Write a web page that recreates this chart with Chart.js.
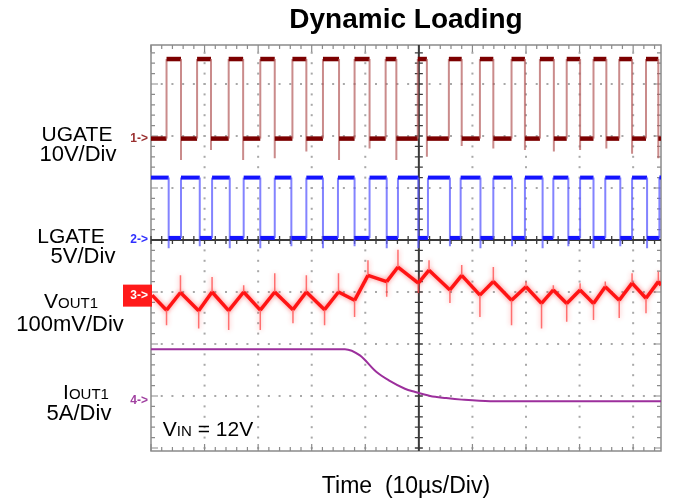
<!DOCTYPE html>
<html>
<head>
<meta charset="utf-8">
<script src="https://cdn.jsdelivr.net/npm/chart.js@4.4.1/dist/chart.umd.min.js"></script>
<style>
  html, body { margin:0; padding:0; background:#fff; }
  #wrap { position:relative; width:674px; height:500px; overflow:hidden; font-family:"Liberation Sans", Arial, sans-serif; color:#000; }
  #c { position:absolute; left:0; top:0; }
  .t { position:absolute; white-space:pre; line-height:1; font-size:21px; transform:translateX(-50%); }
  .b { font-size:22px; }
  .s { font-size:15px; }
</style>
</head>
<body>
<div id="wrap">
  <canvas id="c" width="674" height="500"></canvas>
  <div class="t" style="left:406px; top:5px; font-size:28px; font-weight:bold;">Dynamic Loading</div>
  <div class="t" style="left:406px; top:474px; font-size:23px;">Time  (10µs/Div)</div>
  <div class="t" style="left:77px; top:123px;">UGATE</div>
  <div class="t b" style="left:78px; top:143px;">10V/Div</div>
  <div class="t" style="left:71px; top:225px;">LGATE</div>
  <div class="t b" style="left:83px; top:245px;">5V/Div</div>
  <div class="t" style="left:71px; top:290px;">V<span class="s">OUT1</span></div>
  <div class="t b" style="left:70px; top:313px;">100mV/Div</div>
  <div class="t" style="left:86px; top:381px;">I<span class="s">OUT1</span></div>
  <div class="t b" style="left:79px; top:402px;">5A/Div</div>
  <div class="t" style="left:208px; top:418px;">V<span class="s">IN</span> = 12V</div>
</div>
<script>
// ---- time axis (µs), 10 µs/div, trigger at 0 ----
const timeMin = -50;
const timeMax = 45.2;

// ---- channel settings: offset (div), scale (units/div) ----
const ugOffset = 1.95, ugPerDiv = 10;    // V
const lgOffset = 0, lgPerDiv = 5;        // V
const voOffset = -1.07, voPerDiv = 100;  // mV
const ioOffset = -3.1, ioPerDiv = 5;     // A

// ---- UGATE (V) ----
const ugRise = [-47.1, -41.4, -35.5, -29.6, -23.6, -17.9, -12.0, -6.2, -0.2, 5.6, 11.4, 17.3, 22.6, 27.6, 32.6, 37.4, 42.4];
const ugFall = [-44.4, -38.8, -32.8, -26.9, -21.0, -14.9, -9.2, -4.2, 1.5, 8.0, 13.9, 19.8, 25.2, 30.1, 35.0, 39.8, 44.7];
const ugSpike = [-4.1, -2.2, -4.1, -3.8, -2.5, -4.1, -1.9, -4.1, -3.5, -1.4, -1.9, -2.2, -2.5, -2.2, -1.9, -2.9, -3.8];
const ugHigh = 15.3, ugLow = 0;

// ---- LGATE (V) ----
const lgFall = [-46.7, -40.9, -35.3, -29.6, -23.8, -17.9, -12.0, -6.0, -0.1, 5.8, 11.5, 17.4, 23.1, 27.9, 32.6, 37.6, 42.6];
const lgRise = [-44.4, -38.6, -32.7, -26.9, -21.0, -15.1, -9.2, -3.9, 1.7, 7.8, 13.9, 19.8, 25.1, 30.1, 34.8, 39.8, 44.9];
const lgSpike = [-0.8, -0.6, -0.8, -0.8, -0.6, -0.8, -0.6, -0.8, -0.8, -0.6, -0.8, -0.6, -0.8, -0.6, -0.8, -0.6, -0.8];
const lgHigh = 6.0, lgLow = 0.2;

// ---- VOUT1 ripple (mV) ----
const voTime = [-49.8, -47.1, -44.5, -41.1, -38.6, -35.5, -32.7, -29.6, -26.9, -23.5, -21.0, -17.6, -15.0, -12.0, -9.5, -6.0, -3.9, -0.1, 1.9, 5.8, 8.0, 11.4, 13.9, 17.3, 20.0, 22.9, 25.1, 27.6, 30.1, 32.6, 34.8, 37.4, 39.8, 42.4, 44.7, 45.2];
const voVal = [1, -28, 6, -29, 7, -29, 7, -28, 7, -27, 7, -27, 7, -9, 39, 27, 55, 24, 49, 11, 39, 1, 27, -9, 17, -15, 11, -15, 11, -15, 17, -9, 24, -5, 27, 20];
const voSpike = [null, -57, 39, -63, 36, -66, 20, -66, 43, -53, 39, -57, 43, -41, 68, -2, 88, 5, 68, -14, 59, -41, 55, -57, 27, -63, 20, -50, 24, -47, 27, -43, 43, -34, 46, null];

// ---- IOUT1 (A) ----
const ioTime = [-50, -13.8, -11.0, -7.9, -5.6, -2.6, -0.8, 2.1, 5.1, 8.0, 13.3, 45.2];
const ioVal = [5.0, 5.0, 4.4, 2.8, 2.0, 1.2, 0.9, 0.5, 0.3, 0.15, 0.0, 0.0];

// ---- build point lists (screen divisions) ----
const d = (v, off, per) => off + v / per;

const ugPts = [{x: timeMin, y: d(ugLow, ugOffset, ugPerDiv)}];
ugRise.forEach((r, i) => {
  const f = ugFall[i];
  ugPts.push({x: r, y: d(ugLow, ugOffset, ugPerDiv)}, {x: r, y: d(ugHigh, ugOffset, ugPerDiv)},
             {x: f, y: d(ugHigh, ugOffset, ugPerDiv)}, {x: f, y: d(ugLow, ugOffset, ugPerDiv)},
             {x: f, y: d(ugSpike[i], ugOffset, ugPerDiv)}, {x: f, y: d(ugLow, ugOffset, ugPerDiv)});
});
ugPts.push({x: timeMax, y: d(ugLow, ugOffset, ugPerDiv)});

const lgPts = [{x: timeMin, y: d(lgHigh, lgOffset, lgPerDiv)}];
lgFall.forEach((f, i) => {
  const r = lgRise[i];
  lgPts.push({x: f, y: d(lgHigh, lgOffset, lgPerDiv)}, {x: f, y: d(lgSpike[i], lgOffset, lgPerDiv)},
             {x: f, y: d(lgLow, lgOffset, lgPerDiv)}, {x: r, y: d(lgLow, lgOffset, lgPerDiv)},
             {x: r, y: d(lgHigh, lgOffset, lgPerDiv)});
});
lgPts.push({x: timeMax, y: d(lgHigh, lgOffset, lgPerDiv)});

const voPts = [];
voTime.forEach((t, i) => {
  voPts.push({x: t, y: d(voVal[i], voOffset, voPerDiv)});
  if (voSpike[i] !== null) {
    voPts.push({x: t, y: d(voSpike[i], voOffset, voPerDiv)}, {x: t, y: d(voVal[i], voOffset, voPerDiv)});
  }
});

const ioPts = ioTime.map((t, i) => ({x: t, y: d(ioVal[i], ioOffset, ioPerDiv)}));

const vert = c => Math.abs(c.p0.parsed.x - c.p1.parsed.x) < 1e-9;
const segStyle = (dark, light, wd, wl) => ({
  borderColor: c => vert(c) ? light : dark,
  borderWidth: c => vert(c) ? wl : wd
});

// ---- scope graticule plugin ----
const graticule = {
  id: 'graticule',
  beforeDatasetsDraw(chart) {
    const {ctx, chartArea: a, scales: {x, y}} = chart;
    ctx.save();
    ctx.fillStyle = '#a8a8a8';
    for (let gx = -40; gx <= 40; gx += 10) {
      if (gx === 0) continue;
      const px = x.getPixelForValue(gx);
      for (let gy = -4; gy <= 3.75; gy += 0.2) {
        const py = y.getPixelForValue(gy);
        if (py > a.top + 2 && py < a.bottom - 2) ctx.fillRect(px - 1, py - 1, 2, 2);
      }
    }
    for (let gy = -3; gy <= 3; gy += 1) {
      if (gy === 0) continue;
      const py = y.getPixelForValue(gy);
      for (let gx = -50; gx <= 45.2; gx += 2) {
        const px = x.getPixelForValue(gx);
        if (px > a.left + 2 && px < a.right - 2) ctx.fillRect(px - 1, py - 1, 2, 2);
      }
    }
    ctx.strokeStyle = '#8a8a8a';
    ctx.lineWidth = 1.5;
    ctx.strokeRect(a.left, a.top, a.right - a.left, a.bottom - a.top);
    ctx.lineWidth = 1.2;
    ctx.beginPath();
    for (let gx = -50; gx <= 45.2; gx += 2) {
      const px = x.getPixelForValue(gx);
      const L = (Math.abs(gx % 10) < 1e-6) ? 7 : 4;
      ctx.moveTo(px, a.top); ctx.lineTo(px, a.top + L);
      ctx.moveTo(px, a.bottom); ctx.lineTo(px, a.bottom - L);
    }
    for (let k = -20; k <= 18; k++) {
      const py = y.getPixelForValue(k * 0.2);
      if (py < a.top || py > a.bottom) continue;
      const L = (k % 5 === 0) ? 7 : 4;
      ctx.moveTo(a.left, py); ctx.lineTo(a.left + L, py);
      ctx.moveTo(a.right, py); ctx.lineTo(a.right - L, py);
    }
    ctx.stroke();
    const cx = x.getPixelForValue(0), cy = y.getPixelForValue(0);
    ctx.strokeStyle = '#3a3a3a';
    ctx.lineWidth = 2;
    ctx.beginPath();
    ctx.moveTo(cx, a.top); ctx.lineTo(cx, a.bottom);
    ctx.moveTo(a.left, cy); ctx.lineTo(a.right, cy);
    ctx.stroke();
    ctx.lineWidth = 1.3;
    ctx.beginPath();
    for (let k = -20; k <= 18; k++) {
      const py = y.getPixelForValue(k * 0.2);
      if (py < a.top || py > a.bottom) continue;
      ctx.moveTo(cx - 4, py); ctx.lineTo(cx + 4, py);
    }
    for (let gx = -50; gx <= 45.2; gx += 2) {
      const px = x.getPixelForValue(gx);
      ctx.moveTo(px, cy - 4); ctx.lineTo(px, cy + 4);
    }
    ctx.stroke();
    ctx.restore();
  },
  beforeDatasetDraw(chart, args) {
    if (args.index === 2) {
      chart.ctx.save();
      chart.ctx.shadowColor = 'rgba(255,40,40,0.6)';
      chart.ctx.shadowBlur = 5;
    }
  },
  afterDatasetDraw(chart, args) {
    if (args.index === 2) chart.ctx.restore();
  },
  afterDatasetsDraw(chart) {
    const {ctx, scales: {y}} = chart;
    ctx.save();
    ctx.font = 'bold 12px "Liberation Sans", Arial, sans-serif';
    ctx.textAlign = 'right';
    ctx.textBaseline = 'middle';
    const mk = [[ugOffset, '#9a3030', '1->'], [lgOffset, '#3030ff', '2->'], [ioOffset, '#a040a0', '4->']];
    mk.forEach(([off, col, txt]) => {
      ctx.fillStyle = col;
      ctx.fillText(txt, 148, y.getPixelForValue(off));
    });
    const py = y.getPixelForValue(voOffset);
    ctx.fillStyle = '#ff1a1a';
    ctx.fillRect(123, py - 11, 29, 22);
    ctx.fillStyle = '#ffffff';
    ctx.fillText('3->', 148, py);
    ctx.restore();
  }
};

new Chart(document.getElementById('c'), {
  type: 'line',
  data: {
    datasets: [
      { label: 'UGATE', data: ugPts, borderJoinStyle: 'miter', segment: segStyle('#7c0000', 'rgba(180,90,90,0.7)', 4.5, 2), borderColor: '#7c0000', borderWidth: 4.5 },
      { label: 'LGATE', data: lgPts, borderJoinStyle: 'miter', segment: segStyle('#1414ff', 'rgba(90,90,255,0.75)', 4, 2), borderColor: '#1414ff', borderWidth: 4 },
      { label: 'VOUT1', data: voPts, segment: segStyle('#ff1414', 'rgba(255,70,70,0.75)', 3.5, 1.5), borderColor: '#ff1414', borderWidth: 3.5 },
      { label: 'IOUT1', data: ioPts, borderColor: '#9c2f9c', borderWidth: 2, tension: 0.4, cubicInterpolationMode: 'monotone' }
    ]
  },
  options: {
    responsive: false,
    animation: false,
    devicePixelRatio: 1,
    elements: { point: { radius: 0 }, line: { fill: false } },
    layout: { padding: { left: 151, right: 13, top: 45, bottom: 49 } },
    plugins: { legend: { display: false }, tooltip: { enabled: false }, title: { display: false } },
    scales: {
      x: { type: 'linear', min: timeMin, max: timeMax, display: false },
      y: { type: 'linear', min: -4.058, max: 3.75, display: false }
    }
  },
  plugins: [graticule]
});
</script>
</body>
</html>
